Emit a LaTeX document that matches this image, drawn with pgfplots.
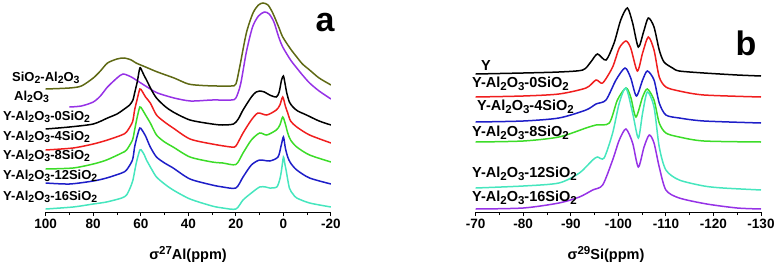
\documentclass[border=0pt]{standalone}
\usepackage{fontspec}
\setmainfont{Liberation Sans}
\usepackage{pgfplots}
\pgfplotsset{compat=1.18}
\definecolor{colive}{RGB}{95,105,20}
\definecolor{cpurp}{RGB}{150,50,230}
\definecolor{cred}{RGB}{240,30,30}
\definecolor{cgreen}{RGB}{60,220,40}
\definecolor{cblue}{RGB}{30,30,200}
\definecolor{ccyan}{RGB}{70,230,190}
\newcommand{\lab}{\bfseries\fontsize{13}{13}\selectfont}
\newcommand{\labb}{\bfseries\fontsize{14.5}{14.5}\selectfont}
\newcommand{\sba}[1]{\raisebox{-2.6pt}{\fontsize{10.5}{10.5}\selectfont #1}}
\newcommand{\sbb}[1]{\raisebox{-2.9pt}{\fontsize{11.5}{11.5}\selectfont #1}}
\newcommand{\sups}[1]{\raisebox{5pt}{\fontsize{11.5}{11.5}\selectfont #1}}
\begin{document}
\begin{tikzpicture}
\path[use as bounding box] (0,0) rectangle (776pt,263pt);
\pgfplotsset{
  nmr/.style={
    anchor=south west, scale only axis, width=285.3pt, height=212pt,
    ymin=0, ymax=212, x dir=reverse,
    axis x line*=bottom, axis y line=none, ytick=\empty,
    tick align=outside, major tick length=4pt, minor tick length=3pt,
    every tick/.style={black, line width=1pt},
    axis line style={line width=1pt, black},
    xticklabel style={font=\bfseries\fontsize{13.5}{13.5}\selectfont},
    /pgf/number format/assume math mode=true,
    every axis plot/.append style={line width=1.5pt, smooth, tension=0.45, no marks},
  }
}
% ---------------- panel a ----------------
\begin{axis}[nmr, at={(45.7pt,51pt)},
  xmin=-20, xmax=100, xtick={-20,0,...,100}, minor xtick={-10,10,...,90}]
\addplot[colive] coordinates {(100,123)(90,124)(85,126)(80,134)(77,141)(74,149)(70,153)(67,154)(64,152)(62,149)(58,145)(53,140)(46,134)(40,128)(34,126.5)(28,126)(22,126)(20,128)(18.4,145)(15.6,179)(12.8,199)(10.5,207)(8.6,209)(6.5,207)(4.5,199)(2,185)(0.3,175)(-3,163)(-5.6,155)(-8,148)(-11,142)(-15,134)(-20,127)};
\addplot[cpurp] coordinates {(90,105)(85,106)(80,110)(77,116)(74,125)(70,134)(67.5,138)(64,135)(60,129)(56,123)(53,119)(46,114)(39,111)(30,112)(22,112)(20,114)(18,128)(15.6,160)(13,185)(10.5,196)(8,200)(6,198)(4,190)(2,175)(0.3,165)(-3,152)(-5.6,144)(-8,137)(-11,129)(-15,121)(-20,113)};
\addplot[black] coordinates {(100,83)(90,85)(80,88)(74,94)(70,98)(67.5,102)(64.7,107)(63.3,112)(62.6,119)(61.5,130)(60.4,144)(59.5,141)(58.5,136)(57.6,132)(55.5,122)(53.4,114)(50,106)(46.4,100)(39.3,92)(30,88)(25.5,87)(21,88)(19,93)(17,102)(13.5,115)(11.5,120)(10,121)(8,120)(5.8,117)(3,115)(1.8,120)(0.8,132)(0,136)(-0.7,128)(-1.4,119)(-2.5,110)(-4,105)(-6,101)(-9.7,97)(-15,91)(-20,87)};
\addplot[cred] coordinates {(100,62)(88.5,64)(80,68)(74,72)(68,77)(66,80)(63.5,90)(62.6,102)(61.5,113)(60.4,123)(59.5,121)(58,115)(56,109)(53.4,97)(50,90)(46.4,84)(39.3,73)(30,68)(22,65)(20,66)(17,79)(13.5,92)(10.7,99)(7,97)(3,102)(1.5,107)(0.3,115)(-0.8,106)(-1.8,99)(-3,91)(-5.6,85)(-11,77)(-20,69)};
\addplot[cgreen] coordinates {(100,43)(88.5,44)(80,48)(74.4,52)(68,59)(66,62)(63.5,72)(62.6,82)(61.5,95)(60.4,105)(59.5,103)(58,97)(56,89)(53.4,77)(50,70)(46.4,65)(39.3,55)(30,50)(25.5,49)(20,47.5)(17,59)(13.5,72)(10,79)(7,77)(3,82)(1.5,87)(0.3,95)(-0.8,88)(-1.8,79)(-3,72)(-5.6,65)(-11,57)(-20,50)};
\addplot[cblue] coordinates {(100,29)(90,28)(80,31)(74.4,34)(68,39)(66,42)(63.5,52)(62.6,65)(61.5,76)(60.4,84)(59.5,82)(58,76)(56,65)(53.4,55)(50,49)(46.4,44)(39.3,33)(30,27)(25.5,25)(20,24)(17,35)(13.5,47)(10,52)(5.8,51)(2.3,55)(1,66)(0,75)(-0.8,64)(-1.8,55)(-3,49)(-5.6,42)(-11,34)(-20,28)};
\addplot[ccyan] coordinates {(100,3)(88.5,5)(80,8)(74.4,10)(68,14)(66,17)(64.5,24)(63.3,32)(61.9,49)(60.4,62)(59.5,61)(58.5,57)(57.6,52)(55.5,43)(53.4,35)(50,28)(46.4,22)(39.3,13)(30,6)(25.5,4)(20,3)(17,12)(13.5,19)(10,25)(7.5,25)(5.8,24)(2.8,25)(1.5,33)(0.8,42)(0,55)(-0.6,48)(-1.1,42)(-2.5,24)(-4,18)(-5.6,14)(-11,9)(-20,5)};
\end{axis}
% ---------------- panel b ----------------
\begin{axis}[nmr, at={(475.7pt,51pt)},
  xmin=-130, xmax=-70, xtick={-130,-120,...,-70}, minor xtick={-125,-115,...,-75}]
\addplot[black] coordinates {(-70,138)(-80,139)(-87.5,140)(-92.5,142)(-94.2,150)(-95.6,158)(-97.4,152)(-99.1,169)(-100.5,192)(-101.9,204)(-103,189)(-104.2,165)(-105.3,180)(-106.3,194)(-107.5,185)(-108.6,162)(-109.6,150)(-111.4,144)(-112.8,141)(-118,139)(-125,137)(-130,136)};
\addplot[cred] coordinates {(-70,115)(-80,116)(-87.5,118)(-93.2,124)(-95.3,132)(-96.7,129)(-98.8,145)(-100.2,164)(-101.6,171)(-102.6,164)(-104,141)(-105.1,159)(-106.3,175)(-107.5,162)(-108.6,135)(-110,125)(-112.8,121)(-118,117)(-130,115)};
\addplot[cblue] coordinates {(-70,90)(-80,91)(-87.5,94)(-93.2,102)(-95.3,108)(-97.4,112)(-99.5,132)(-101.4,144)(-102.6,134)(-103.8,116)(-105.1,132)(-106.1,141)(-107.5,132)(-108.6,109)(-110,97)(-112.8,94)(-118,91)(-130,89)};
\addplot[cgreen] coordinates {(-70,70)(-80,71)(-87.5,75)(-93.2,84)(-95.3,87)(-98.1,89)(-99.8,112)(-101.6,124)(-102.6,115)(-103.7,95)(-105.1,115)(-106.1,123)(-107.5,112)(-108.6,89)(-110,79)(-112.8,75)(-118,71)(-130,70)};
\addplot[ccyan] coordinates {(-70,24)(-80,26)(-87.5,29)(-91.8,39)(-94.6,52)(-95.6,55)(-97,54)(-98.8,79)(-100.2,109)(-101.6,124)(-103,99)(-104.2,74)(-105.1,99)(-106.1,120)(-107.5,105)(-108.6,65)(-110,42)(-112.8,32)(-118,26)(-122,24)(-130,22)};
\addplot[cpurp] coordinates {(-70,3)(-80,4)(-87.5,9)(-91.8,15)(-94.6,22)(-96.7,27)(-98.8,52)(-100.2,72)(-101.6,83)(-103,69)(-104.2,45)(-105.4,65)(-106.5,77)(-107.5,69)(-108.6,45)(-110,22)(-112.8,14)(-118.6,8)(-125,4)(-130,3)};
\end{axis}
% ---------------- labels ----------------
\node[anchor=west, inner sep=0pt] at (12pt,185pt) {\lab SiO\sba{2}-Al\sba{2}O\sba{3}};
\node[anchor=west, inner sep=0pt] at (14pt,166pt) {\lab Al\sba{2}O\sba{3}};
\node[anchor=west, inner sep=0pt] at (3pt,146pt) {\lab Y-Al\sba{2}O\sba{3}-0SiO\sba{2}};
\node[anchor=west, inner sep=0pt] at (3pt,126pt) {\lab Y-Al\sba{2}O\sba{3}-4SiO\sba{2}};
\node[anchor=west, inner sep=0pt] at (3pt,107pt) {\lab Y-Al\sba{2}O\sba{3}-8SiO\sba{2}};
\node[anchor=west, inner sep=0pt] at (3pt,87pt) {\lab Y-Al\sba{2}O\sba{3}-12SiO\sba{2}};
\node[anchor=west, inner sep=0pt] at (3pt,66pt) {\lab Y-Al\sba{2}O\sba{3}-16SiO\sba{2}};
\node[inner sep=0pt] at (325pt,240pt) {\bfseries\fontsize{34}{34}\selectfont a};
\node[inner sep=0pt] at (188pt,9pt) {\bfseries\fontsize{14.5}{14.5}\selectfont σ\sups{27}Al(ppm)};
\node[anchor=west, inner sep=0pt] at (481pt,197pt) {\labb Y};
\node[anchor=west, inner sep=0pt] at (472pt,179pt) {\labb Y-Al\sbb{2}O\sbb{3}-0SiO\sbb{2}};
\node[anchor=west, inner sep=0pt] at (477pt,156pt) {\labb Y-Al\sbb{2}O\sbb{3}-4SiO\sbb{2}};
\node[anchor=west, inner sep=0pt] at (472pt,130pt) {\labb Y-Al\sbb{2}O\sbb{3}-8SiO\sbb{2}};
\node[anchor=west, inner sep=0pt] at (472pt,89pt) {\labb Y-Al\sbb{2}O\sbb{3}-12SiO\sbb{2}};
\node[anchor=west, inner sep=0pt] at (472pt,65pt) {\labb Y-Al\sbb{2}O\sbb{3}-16SiO\sbb{2}};
\node[inner sep=0pt] at (746pt,220pt) {\bfseries\fontsize{34}{34}\selectfont b};
\node[inner sep=0pt] at (606pt,9pt) {\bfseries\fontsize{14.5}{14.5}\selectfont σ\sups{29}Si(ppm)};
\end{tikzpicture}
\end{document}
